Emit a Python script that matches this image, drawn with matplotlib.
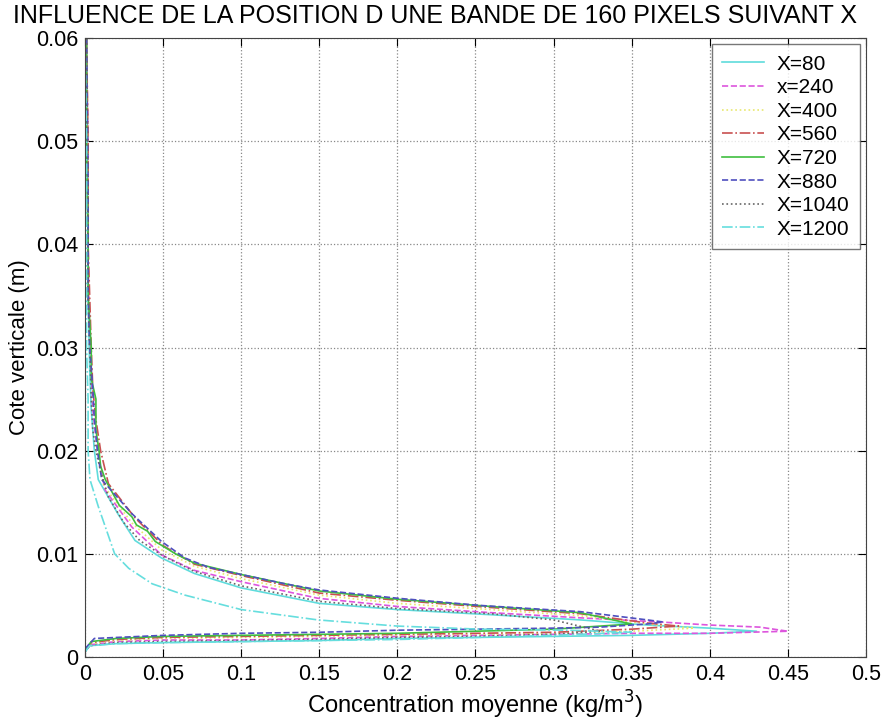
import matplotlib
matplotlib.use('Agg')
import matplotlib.pyplot as plt

plt.rcParams['font.family'] = ['Liberation Sans', 'DejaVu Sans']

labels = ['X=80', 'x=240', 'X=400', 'X=560', 'X=720', 'X=880', 'X=1040', 'X=1200']
colors = ['#5fdcdc', '#dd55dd', '#e8e870', '#c85050', '#3fbf3f', '#4f4fbf', '#666666', '#66dede']
styles = ['-', '--', ':', '-.', '-', '--', ':', '-.']

# each profile: lower branch (bottom -> peak) then upper branch (peak -> top)
x80 = [0.0, 0.003, 0.02, 0.05, 0.1, 0.15, 0.2, 0.25, 0.3, 0.35, 0.4, 0.43,
       0.40, 0.36, 0.317, 0.26, 0.2, 0.15, 0.1, 0.07, 0.049, 0.032, 0.021, 0.0085,
       0.006, 0.004, 0.003, 0.002, 0.002, 0.001, 0.001]
y80 = [0.0005, 0.0011, 0.0013, 0.0014, 0.0015, 0.0016, 0.0018, 0.0019, 0.002, 0.0021, 0.0023, 0.0025,
       0.0028, 0.0031, 0.0036, 0.0041, 0.0046, 0.0052, 0.0067, 0.0081, 0.0096, 0.0113, 0.0139, 0.0172,
       0.02, 0.024, 0.028, 0.035, 0.04, 0.05, 0.06]

x240 = [0.0, 0.004, 0.02, 0.05, 0.1, 0.15, 0.2, 0.25, 0.3, 0.35, 0.4, 0.45,
        0.432, 0.4, 0.368, 0.317, 0.26, 0.2, 0.149, 0.1, 0.07, 0.049, 0.03, 0.0128,
        0.008, 0.005, 0.004, 0.003, 0.002, 0.002, 0.001]
y240 = [0.0006, 0.0012, 0.0015, 0.00165, 0.00165, 0.0018, 0.002, 0.0021, 0.0022, 0.0023, 0.0023, 0.0025,
        0.0029, 0.0031, 0.0034, 0.0038, 0.0043, 0.0049, 0.0057, 0.0073, 0.0084, 0.0099, 0.0126, 0.0162,
        0.02, 0.024, 0.028, 0.032, 0.038, 0.048, 0.06]

x400 = [0.0, 0.004, 0.02, 0.05, 0.1, 0.15, 0.2, 0.25, 0.3, 0.35, 0.39,
        0.36, 0.317, 0.26, 0.2, 0.15, 0.1, 0.07, 0.049, 0.03, 0.012,
        0.008, 0.005, 0.004, 0.003, 0.002, 0.002, 0.001]
y400 = [0.0006, 0.0013, 0.0016, 0.0018, 0.0019, 0.002, 0.0021, 0.0022, 0.0023, 0.0025, 0.0028,
        0.0032, 0.004, 0.0046, 0.0052, 0.006, 0.0076, 0.0088, 0.0104, 0.013, 0.0166,
        0.02, 0.025, 0.028, 0.032, 0.038, 0.048, 0.06]

x560 = [0.0, 0.004, 0.02, 0.05, 0.1, 0.15, 0.2, 0.25, 0.3, 0.35, 0.38,
        0.36, 0.317, 0.26, 0.2, 0.15, 0.1, 0.07, 0.05, 0.032, 0.015,
        0.01, 0.007, 0.005, 0.004, 0.003, 0.002, 0.002, 0.001]
y560 = [0.0007, 0.0014, 0.0017, 0.0019, 0.002, 0.0021, 0.0022, 0.0023, 0.0024, 0.0027, 0.003,
        0.0033, 0.0042, 0.0048, 0.0055, 0.0062, 0.0079, 0.009, 0.0108, 0.0135, 0.0168,
        0.02, 0.023, 0.026, 0.03, 0.035, 0.04, 0.05, 0.06]

x720 = [0.0, 0.004, 0.02, 0.05, 0.1, 0.15, 0.2, 0.25, 0.3, 0.35,
        0.317, 0.26, 0.2, 0.15, 0.1, 0.07, 0.058, 0.045, 0.04, 0.033, 0.03, 0.022, 0.018, 0.013,
        0.01, 0.009, 0.007, 0.007, 0.004, 0.004, 0.002, 0.002, 0.001, 0.001]
y720 = [0.0007, 0.0015, 0.0018, 0.002, 0.0021, 0.0022, 0.0023, 0.0025, 0.0027, 0.0032,
        0.0043, 0.0049, 0.0056, 0.0064, 0.008, 0.0091, 0.01, 0.0112, 0.0122, 0.0128, 0.0136, 0.0147, 0.0158, 0.0172,
        0.0185, 0.02, 0.022, 0.025, 0.027, 0.03, 0.035, 0.04, 0.05, 0.06]

x880 = [0.0, 0.006, 0.05, 0.1, 0.15, 0.2, 0.25, 0.3, 0.33, 0.36, 0.37,
        0.36, 0.317, 0.253, 0.2, 0.15, 0.128, 0.1, 0.079, 0.064, 0.049, 0.03, 0.0107,
        0.008, 0.006, 0.005, 0.003, 0.002, 0.002, 0.001]
y880 = [0.0008, 0.0018, 0.0021, 0.0023, 0.0024, 0.0026, 0.0027, 0.0028, 0.0029, 0.0032, 0.0034,
        0.0036, 0.0044, 0.005, 0.0057, 0.0065, 0.0071, 0.008, 0.0087, 0.0096, 0.0112, 0.0139, 0.0172,
        0.02, 0.023, 0.026, 0.03, 0.035, 0.045, 0.06]

x1040 = [0.0, 0.003, 0.02, 0.05, 0.1, 0.15, 0.2, 0.25, 0.3, 0.33,
         0.3, 0.26, 0.2, 0.15, 0.1, 0.07, 0.05, 0.035, 0.025, 0.015,
         0.01, 0.007, 0.005, 0.004, 0.003, 0.002, 0.002, 0.001]
y1040 = [0.0005, 0.0011, 0.0014, 0.0015, 0.0016, 0.0017, 0.0019, 0.002, 0.0022, 0.0025,
         0.0036, 0.0042, 0.0047, 0.0054, 0.0069, 0.0083, 0.0098, 0.0113, 0.013, 0.0155,
         0.018, 0.02, 0.022, 0.025, 0.03, 0.035, 0.045, 0.06]

x1200 = [0.0, 0.003, 0.02, 0.05, 0.1, 0.15, 0.2, 0.25, 0.3, 0.35,
         0.309, 0.253, 0.2, 0.149, 0.1, 0.064, 0.043, 0.028, 0.019, 0.0085, 0.0032,
         0.002, 0.002, 0.001, 0.001, 0.001, 0.0]
y1200 = [0.0005, 0.0011, 0.0013, 0.0014, 0.0015, 0.0016, 0.0017, 0.0019, 0.0021, 0.0024,
         0.0026, 0.0027, 0.003, 0.0036, 0.0046, 0.006, 0.0071, 0.0086, 0.01, 0.0146, 0.0172,
         0.02, 0.025, 0.03, 0.04, 0.05, 0.06]

profiles = [(x80, y80), (x240, y240), (x400, y400), (x560, y560),
            (x720, y720), (x880, y880), (x1040, y1040), (x1200, y1200)]

fig = plt.figure(figsize=(8.89, 7.24), dpi=100)
ax = fig.add_axes([0.0956, 0.0925, 0.8784, 0.855])

for (xs, ys), lab, c, ls in zip(profiles, labels, colors, styles):
    ax.plot(xs, ys, ls=ls, c=c, lw=1.2, label=lab)

ax.set_xlim(0, 0.5)
ax.set_ylim(0, 0.06)
ax.set_xticks([0, 0.05, 0.1, 0.15, 0.2, 0.25, 0.3, 0.35, 0.4, 0.45, 0.5])
ax.set_xticklabels(['0', '0.05', '0.1', '0.15', '0.2', '0.25', '0.3', '0.35', '0.4', '0.45', '0.5'])
ax.set_yticks([0, 0.01, 0.02, 0.03, 0.04, 0.05, 0.06])
ax.set_yticklabels(['0', '0.01', '0.02', '0.03', '0.04', '0.05', '0.06'])
ax.grid(True, ls=':', c='#888888', lw=0.9)
ax.tick_params(direction='in', labelsize=15.5, length=6, pad=5, top=True, right=True)
for sp in ax.spines.values():
    sp.set_color('#444444')

ax.set_xlabel('Concentration moyenne (kg/m$^3$)', fontsize=17, labelpad=3)
ax.set_ylabel('Cote verticale (m)', fontsize=16, labelpad=4)
ax.set_title('INFLUENCE DE LA POSITION D UNE BANDE DE 160 PIXELS SUIVANT X',
             fontsize=18, x=0.448, pad=11)

ax.legend(loc='upper right', fontsize=15, frameon=True, fancybox=False, edgecolor='#555555',
          labelspacing=0.22, handlelength=2.0, handletextpad=0.6, borderpad=0.5, borderaxespad=0.3)

fig.savefig('out.png', dpi=100)
